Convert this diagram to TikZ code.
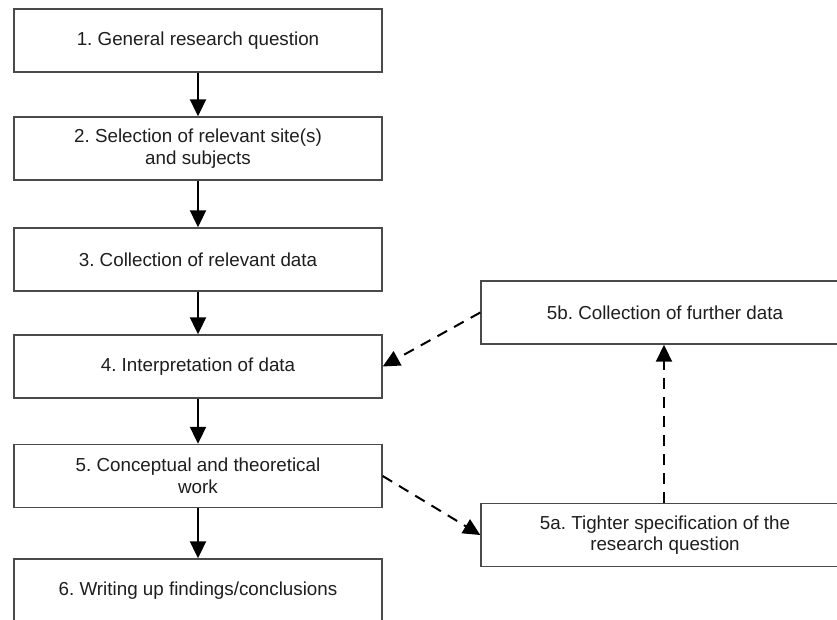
\documentclass[tikz,border=0pt]{standalone}
\usepackage{fontspec}
\setmainfont{Liberation Sans}
\usetikzlibrary{arrows.meta}
\definecolor{boxline}{HTML}{4A4A4A}
\definecolor{ink}{HTML}{1E1E1E}
\frenchspacing
\begin{document}
\begin{tikzpicture}[x=1pt,y=-1pt,
  stagebox/.style={draw=boxline, line width=1.4pt, fill=white, text=ink,
    minimum width=368pt, minimum height=63pt, inner sep=0pt, align=center,
    font=\fontsize{18.8}{21.5}\selectfont},
  flow/.style={line width=2pt, -{Triangle[length=17pt,width=16pt]}},
  loopback/.style={flow, dash pattern=on 11pt off 8pt}]
\useasboundingbox (0,0) rectangle (837,619);
\clip (0,0) rectangle (837,619);
\fill[white] (0,0) rectangle (837,619);

% main sequence of stages
\node[stagebox] (s1) at (198,40.5)  {1. General research question};
\node[stagebox] (s2) at (198,148.5) {2. Selection of relevant site(s)\\and subjects};
\node[stagebox] (s3) at (198,259.5) {3. Collection of relevant data};
\node[stagebox] (s4) at (198,366.5) {4. Interpretation of data};
\node[stagebox] (s5) at (198,476)   {5. Conceptual and theoretical\\work};
\node[stagebox] (s6) at (198,590.5) {6. Writing up findings/conclusions};

% side loop
\node[stagebox] (s5b) at (665,312.5) {5b. Collection of further data};
\node[stagebox] (s5a) at (665,535)   {5a. Tighter specification of the\\research question};

\draw[flow] (s1) -- (s2);
\draw[flow] (s2) -- (s3);
\draw[flow] (s3) -- (s4);
\draw[flow] (s4) -- (s5);
\draw[flow] (s5) -- (s6);

\draw[loopback] (s5.east) -- (s5a.west);
\draw[loopback] (s5a.north -| 664,0) -- (s5b.south -| 664,0);
\draw[loopback] (s5b.west) -- (s4.east);
\end{tikzpicture}
\end{document}
